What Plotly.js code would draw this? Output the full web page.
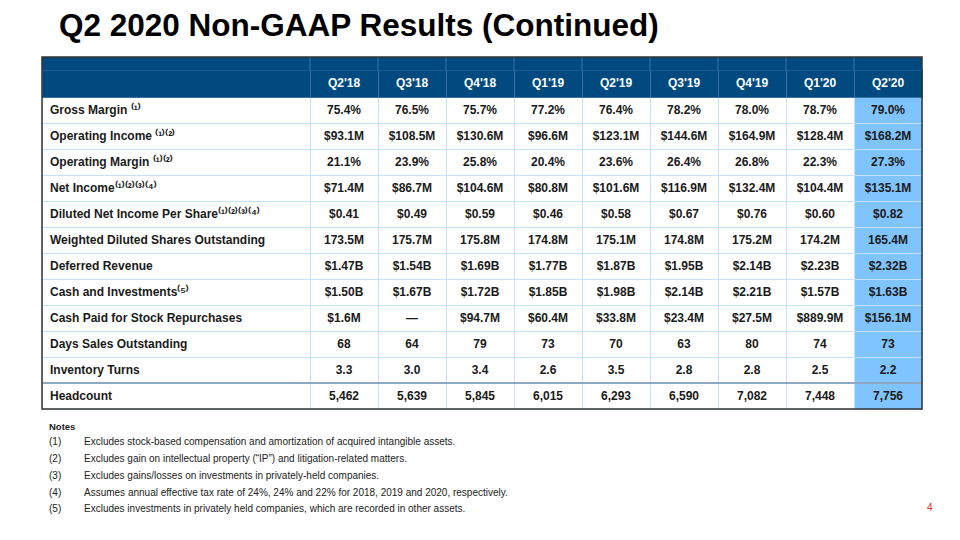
<!DOCTYPE html>
<html>
<head>
<meta charset="utf-8">
<script src="https://cdn.plot.ly/plotly-3.0.1.min.js"></script>
<style>html,body{margin:0;padding:0;background:#fff;}#chart{width:960px;height:540px;}</style>
</head>
<body>
<div id="chart"></div>
<script>
var quarters = ["Q2'18","Q3'18","Q4'18","Q1'19","Q2'19","Q3'19","Q4'19","Q1'20","Q2'20"];
var metrics = [
  "Gross Margin \u207D\u00B9\u207E",
  "Operating Income \u207D\u00B9\u207E\u207D\u00B2\u207E",
  "Operating Margin \u207D\u00B9\u207E\u207D\u00B2\u207E",
  "Net Income\u207D\u00B9\u207E\u207D\u00B2\u207E\u207D\u00B3\u207E\u207D\u2074\u207E",
  "Diluted Net Income Per Share\u207D\u00B9\u207E\u207D\u00B2\u207E\u207D\u00B3\u207E\u207D\u2074\u207E",
  "Weighted Diluted Shares Outstanding",
  "Deferred Revenue",
  "Cash and Investments\u207D\u2075\u207E",
  "Cash Paid for Stock Repurchases",
  "Days Sales Outstanding",
  "Inventory Turns",
  "Headcount"
];
var grossMargin = ["75.4%","76.5%","75.7%","77.2%","76.4%","78.2%","78.0%","78.7%","79.0%"];
var operatingIncome = ["$93.1M","$108.5M","$130.6M","$96.6M","$123.1M","$144.6M","$164.9M","$128.4M","$168.2M"];
var operatingMargin = ["21.1%","23.9%","25.8%","20.4%","23.6%","26.4%","26.8%","22.3%","27.3%"];
var netIncome = ["$71.4M","$86.7M","$104.6M","$80.8M","$101.6M","$116.9M","$132.4M","$104.4M","$135.1M"];
var dilutedEPS = ["$0.41","$0.49","$0.59","$0.46","$0.58","$0.67","$0.76","$0.60","$0.82"];
var dilutedShares = ["173.5M","175.7M","175.8M","174.8M","175.1M","174.8M","175.2M","174.2M","165.4M"];
var deferredRevenue = ["$1.47B","$1.54B","$1.69B","$1.77B","$1.87B","$1.95B","$2.14B","$2.23B","$2.32B"];
var cashInvestments = ["$1.50B","$1.67B","$1.72B","$1.85B","$1.98B","$2.14B","$2.21B","$1.57B","$1.63B"];
var stockRepurchases = ["$1.6M","\u2014","$94.7M","$60.4M","$33.8M","$23.4M","$27.5M","$889.9M","$156.1M"];
var daysSalesOutstanding = ["68","64","79","73","70","63","80","74","73"];
var inventoryTurns = ["3.3","3.0","3.4","2.6","3.5","2.8","2.8","2.5","2.2"];
var headcount = ["5,462","5,639","5,845","6,015","6,293","6,590","7,082","7,448","7,756"];
var notes = [
  "Excludes stock-based compensation and amortization of acquired intangible assets.",
  "Excludes gain on intellectual property (\u201cIP\u201d) and litigation-related matters.",
  "Excludes gains/losses on investments in privately-held companies.",
  "Assumes annual effective tax rate of 24%, 24% and 22% for 2018, 2019 and 2020, respectively.",
  "Excludes investments in privately held companies, which are recorded in other assets."
];

var rows = [grossMargin, operatingIncome, operatingMargin, netIncome, dilutedEPS, dilutedShares,
  deferredRevenue, cashInvestments, stockRepurchases, daysSalesOutstanding, inventoryTurns, headcount];

var W = 960, H = 540;
var tableLeft = 42, tableRight = 922, tableTop = 57;
var headerStrip = 13, headerH = 27, rowH = 26;
var labelW = 268, colW = 68;
var widths = [labelW].concat(quarters.map(function () { return colW; }));

// non-breaking spaces keep Plotly from wrapping (and growing) the label cells
var labels = metrics.map(function (m) { return m.replace(/ /g, "\u00A0"); });
var columns = [labels];
for (var c = 0; c < quarters.length; c++) {
  columns.push(rows.map(function (r) { return r[c]; }));
}

var dark = "#004a80", hilite = "#80c4ff", grid = "#c4e2fa", headLine = "#3a70a0";
var cellFill = columns.map(function (col, i) {
  return col.map(function () { return i === quarters.length ? hilite : "#ffffff"; });
});

var tblTop = tableTop + headerStrip;
var trace = {
  type: "table",
  domain: {x: [tableLeft / W, tableRight / W], y: [0.05, 1 - tblTop / H]},
  columnwidth: widths,
  header: {
    values: [""].concat(quarters),
    height: headerH,
    align: "center",
    fill: {color: dark},
    line: {color: headLine, width: 1},
    font: {family: "Liberation Sans, Arial, sans-serif", size: 12, color: "#ffffff", weight: "bold"}
  },
  cells: {
    values: columns,
    height: rowH,
    align: ["left"].concat(quarters.map(function () { return "center"; })),
    fill: {color: cellFill},
    line: {color: grid, width: 1},
    font: {family: "Liberation Sans, Arial, sans-serif", size: 12, color: "#1a1a1a", weight: "bold"}
  }
};

var tableBottom = tblTop + headerH + rowH * rows.length;
var sepY = tblTop + headerH + rowH * (rows.length - 1);
var py = function (y) { return 1 - y / H; };
var px = function (x) { return x / W; };

var annotations = [
  {text: "<b>Q2 2020 Non-GAAP Results (Continued)</b>", x: px(57), y: py(25), xref: "paper", yref: "paper",
   xanchor: "left", yanchor: "middle", showarrow: false,
   font: {family: "Liberation Sans, Arial, sans-serif", size: 31.5, color: "#000"}},
  {text: "<b>Notes</b>", x: px(47), y: py(426), xref: "paper", yref: "paper", xanchor: "left", yanchor: "middle",
   showarrow: false, font: {family: "Liberation Sans, Arial, sans-serif", size: 9.5, color: "#222"}},
  {text: "4", x: px(930), y: py(507), xref: "paper", yref: "paper", xanchor: "center", yanchor: "middle",
   showarrow: false, font: {family: "Liberation Sans, Arial, sans-serif", size: 10, color: "#e8282b"}}
];
notes.forEach(function (n, i) {
  var y = 441 + i * 17;
  annotations.push({text: "(" + (i + 1) + ")", x: px(47), y: py(y), xref: "paper", yref: "paper",
    xanchor: "left", yanchor: "middle", showarrow: false,
    font: {family: "Liberation Sans, Arial, sans-serif", size: 10, color: "#222"}});
  annotations.push({text: n, x: px(82), y: py(y), xref: "paper", yref: "paper",
    xanchor: "left", yanchor: "middle", showarrow: false,
    font: {family: "Liberation Sans, Arial, sans-serif", size: 10, color: "#222"}});
});

var shapes = [
  // top part of the header band
  {type: "rect", xref: "paper", yref: "paper", x0: px(tableLeft), x1: px(tableRight),
   y0: py(tblTop + 0.5), y1: py(tableTop), fillcolor: dark, line: {width: 0}, layer: "above"}
];
var xAcc = tableLeft;
for (var k = 0; k < widths.length - 1; k++) {
  xAcc += widths[k];
  shapes.push({type: "line", xref: "paper", yref: "paper", x0: px(xAcc), x1: px(xAcc),
    y0: py(tblTop + 0.5), y1: py(tableTop), line: {color: headLine, width: 1}, layer: "above"});
}
shapes.push(
  {type: "line", xref: "paper", yref: "paper", x0: px(tableLeft), x1: px(tableRight),
   y0: py(sepY), y1: py(sepY), line: {color: "#8ea9c1", width: 2}, layer: "above"},
  {type: "rect", xref: "paper", yref: "paper", x0: px(tableLeft), x1: px(tableRight),
   y0: py(tableBottom), y1: py(tableTop), line: {color: "#333333", width: 1.5}, layer: "above"}
);

var layout = {
  width: W, height: H,
  margin: {l: 0, r: 0, t: 0, b: 0},
  paper_bgcolor: "#ffffff",
  showlegend: false,
  annotations: annotations,
  shapes: shapes
};

Plotly.newPlot("chart", [trace], layout, {displayModeBar: false, staticPlot: true});
</script>
</body>
</html>
